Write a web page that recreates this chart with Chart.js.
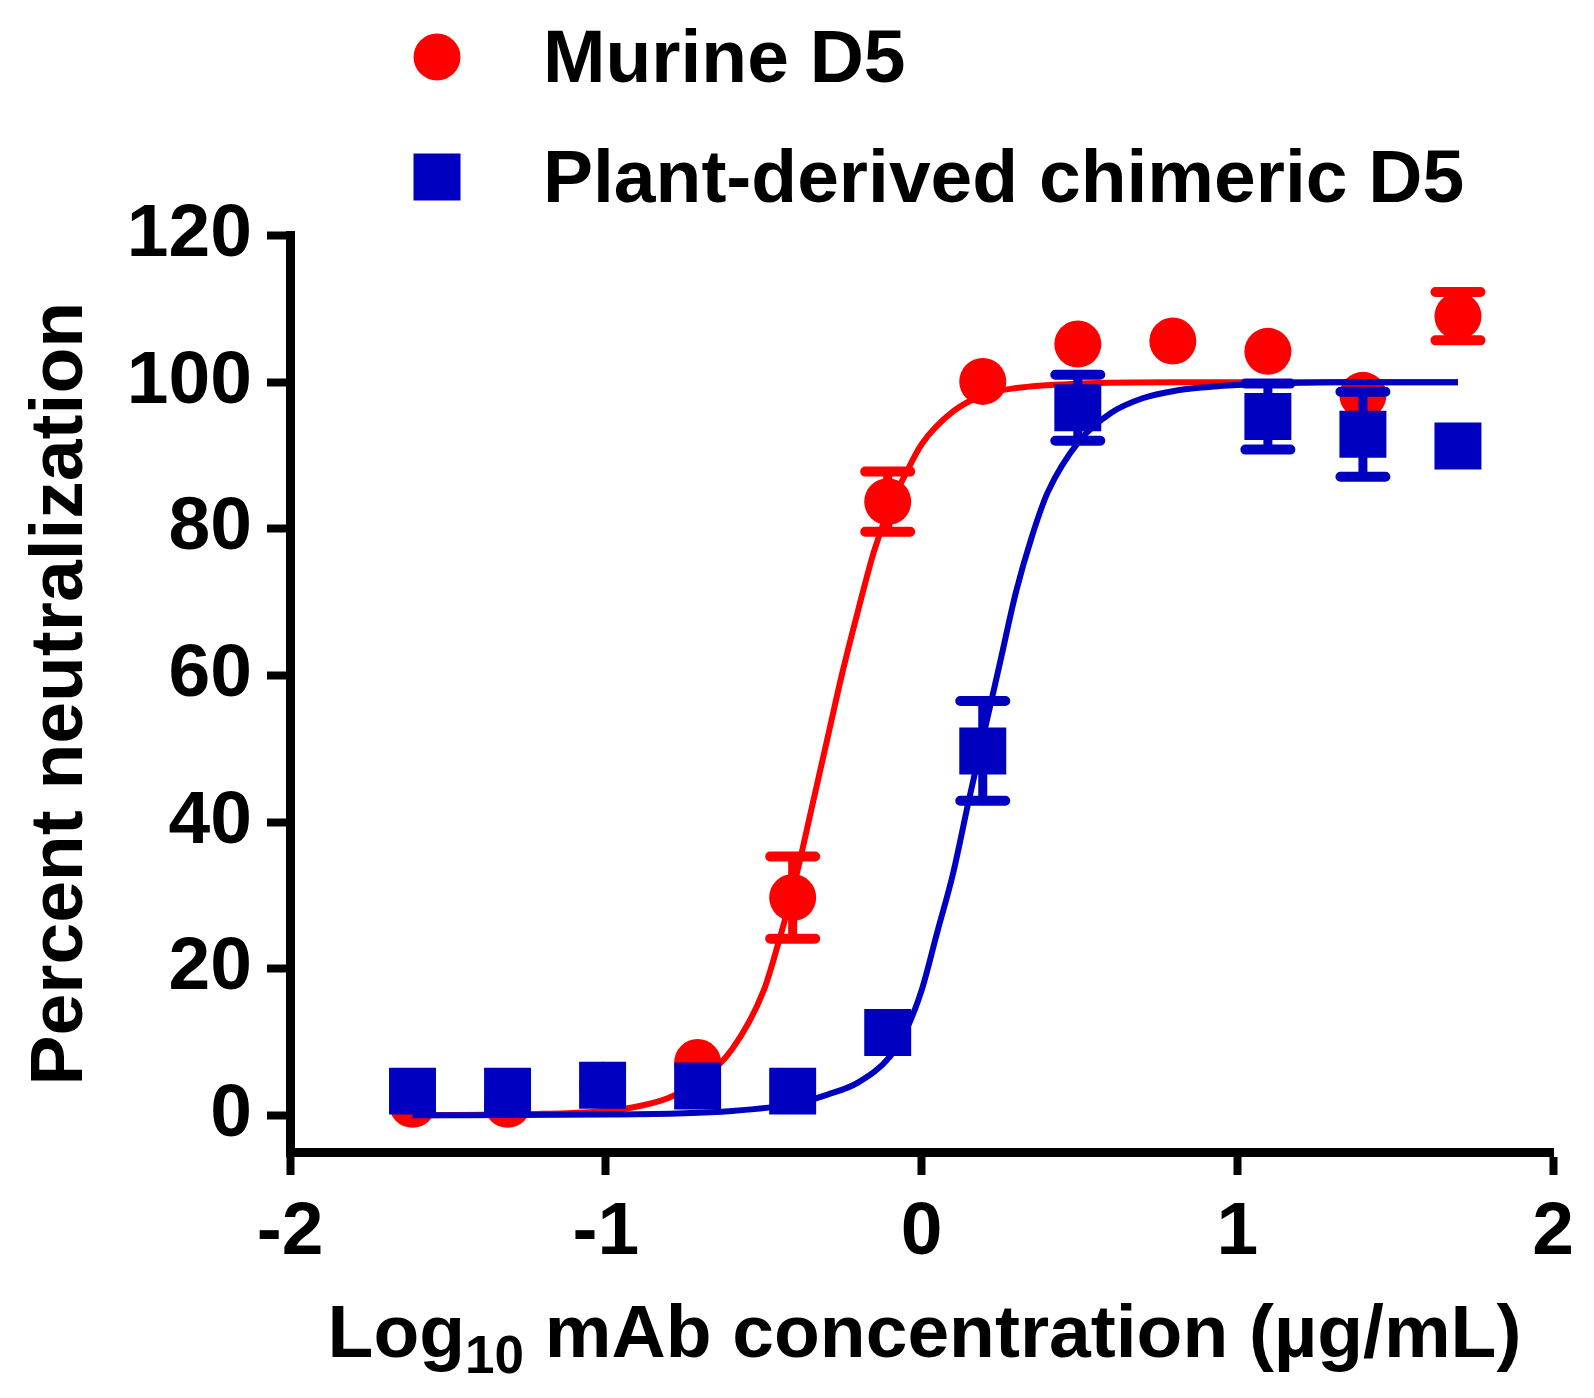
<!DOCTYPE html>
<html>
<head>
<meta charset="utf-8">
<script src="https://cdn.jsdelivr.net/npm/chart.js@4.4.0/dist/chart.umd.min.js"></script>
<style>
  html, body { margin: 0; padding: 0; background: #fff; }
  #wrap { width: 1594px; height: 1398px; position: relative; }
</style>
</head>
<body>
<div id="wrap"><canvas id="myChart"></canvas></div>
<script>
// log10 of mAb concentration (ug/mL), twofold dilutions
const logConc = [-1.612, -1.311, -1.010, -0.709, -0.408, -0.107, 0.194, 0.495, 0.796, 1.097, 1.398, 1.699];

// null error = bar hidden behind the symbol in the figure
const murineMean = [1.5, 1.5, 4.1, 7.2, 29.7, 83.7, 100.1, 105.2, 105.6, 104.2, 98.2, 109.0];
const murineErr  = [null, null, null, null, 5.6, 4.1, null, null, null, null, null, 3.3];

const chimericMean = [3.3, 3.3, 4.1, 4.0, 3.3, 11.3, 49.7, 96.5, null, 95.3, 92.9, 91.3];
const chimericErr  = [null, null, null, null, null, null, 6.8, 4.5, null, 4.5, 5.8, null];

// fitted curves
const murineFitX = [-1.612, -1.2, -1.0, -0.9, -0.8, -0.7, -0.6, -0.5, -0.45, -0.4, -0.35, -0.3, -0.25, -0.2, -0.15, -0.1, -0.05, 0, 0.1, 0.2, 0.3, 0.5, 0.8, 1.2, 1.699];
const murineFitY = [0, 0.2, 0.6, 1.2, 2.4, 4.8, 9, 17, 24, 32, 41.5, 51, 60.5, 69, 77, 83, 87.5, 91.5, 96, 98.3, 99.2, 99.8, 100, 100, 100];

const chimericFitX = [-1.612, -1.0, -0.6, -0.4, -0.3, -0.2, -0.1, -0.05, 0, 0.05, 0.1, 0.15, 0.2, 0.25, 0.3, 0.35, 0.4, 0.5, 0.6, 0.7, 0.8, 1.0, 1.3, 1.699];
const chimericFitY = [0, 0.1, 0.6, 1.6, 2.8, 4.5, 8, 11.5, 17, 25, 33, 43, 52.5, 62, 71.5, 79, 85, 92, 95.8, 97.8, 98.8, 99.6, 100, 100];

const yTicks = [0, 20, 40, 60, 80, 100, 120];
const seriesNames = ['Murine D5', 'Plant-derived chimeric D5'];

const RED = '#ff0000';
const BLUE = '#0000c0';
const FONT = "'Liberation Sans', Arial, sans-serif";

function pts(xs, ys) {
    const out = [];
    xs.forEach((x, i) => { if (ys[i] !== null) out.push({x: x, y: ys[i]}); });
    return out;
}

// error bars, drawn right after their own dataset so layering follows dataset order
const errorBars = {
    id: 'errorBars',
    afterDatasetDraw(chart, args) {
        const ds = chart.data.datasets[args.index];
        if (!ds.errors) return;
        const ctx = chart.ctx;
        const xs = chart.scales.x, ys = chart.scales.y;
        ctx.save();
        ctx.strokeStyle = ds.backgroundColor;
        ctx.lineCap = 'round';
        ds.errors.forEach((e, i) => {
            const m = ds.means[i];
            if (m === null || e === null) return;
            const px = xs.getPixelForValue(logConc[i]);
            const top = ys.getPixelForValue(m + e);
            const bot = ys.getPixelForValue(m - e);
            ctx.lineWidth = 9;
            ctx.beginPath(); ctx.moveTo(px, top); ctx.lineTo(px, bot); ctx.stroke();
            ctx.lineWidth = 10;
            ctx.beginPath();
            ctx.moveTo(px - 22.5, top); ctx.lineTo(px + 22.5, top);
            ctx.moveTo(px - 22.5, bot); ctx.lineTo(px + 22.5, bot);
            ctx.stroke();
        });
        ctx.restore();
    }
};

// legend at the top left and the x axis title with subscript
const extras = {
    id: 'extras',
    afterDraw(chart) {
        const ctx = chart.ctx;
        ctx.save();
        // legend
        const rows = [{y: 57, color: RED, style: 'circle'}, {y: 177, color: BLUE, style: 'rect'}];
        ctx.font = 'bold 75px ' + FONT;
        ctx.textBaseline = 'alphabetic';
        ctx.textAlign = 'left';
        rows.forEach((r, i) => {
            ctx.fillStyle = r.color;
            if (r.style === 'circle') {
                ctx.beginPath(); ctx.arc(437, r.y, 23.5, 0, Math.PI * 2); ctx.fill();
            } else {
                ctx.fillRect(437 - 23.5, r.y - 23.5, 47, 47);
            }
            ctx.fillStyle = '#000';
            ctx.fillText(seriesNames[i], 543, r.y + 25);
        });
        // x axis title
        const a = chart.chartArea;
        const big = 'bold 75px ' + FONT, small = 'bold 53px ' + FONT;
        const t1 = 'Log', t2 = '10', t3 = ' mAb concentration (\u00b5g/mL)';
        ctx.font = big; const w1 = ctx.measureText(t1).width, w3 = ctx.measureText(t3).width;
        ctx.font = small; const w2 = ctx.measureText(t2).width;
        let x = (a.left + a.right) / 2 + 3 - (w1 + w2 + w3) / 2;
        const base = 1357;
        ctx.fillStyle = '#000';
        ctx.font = big; ctx.fillText(t1, x, base); x += w1;
        ctx.font = small; ctx.fillText(t2, x, base + 16); x += w2;
        ctx.font = big; ctx.fillText(t3, x, base);
        ctx.restore();
    }
};

new Chart('myChart', {
    type: 'scatter',
    data: {
        datasets: [{
            label: seriesNames[1],
            data: pts(logConc, chimericMean),
            means: chimericMean,
            errors: chimericErr,
            backgroundColor: BLUE,
            borderColor: BLUE,
            pointStyle: 'rect',
            pointRadius: 33.2,
            pointHoverRadius: 33.2,
            pointBorderWidth: 0,
            order: 0
        }, {
            label: 'chimeric fit',
            data: pts(chimericFitX, chimericFitY),
            showLine: true,
            borderColor: BLUE,
            borderWidth: 6,
            pointRadius: 0,
            cubicInterpolationMode: 'monotone',
            order: 1
        }, {
            label: seriesNames[0],
            data: pts(logConc, murineMean),
            means: murineMean,
            errors: murineErr,
            backgroundColor: RED,
            borderColor: RED,
            pointStyle: 'circle',
            pointRadius: 23.5,
            pointHoverRadius: 23.5,
            pointBorderWidth: 0,
            order: 2
        }, {
            label: 'murine fit',
            data: pts(murineFitX, murineFitY),
            showLine: true,
            borderColor: RED,
            borderWidth: 6,
            pointRadius: 0,
            cubicInterpolationMode: 'monotone',
            order: 3
        }]
    },
    options: {
        responsive: true,
        maintainAspectRatio: false,
        animation: false,
        layout: {padding: {top: 235.5, right: 41, left: 0, bottom: 0}},
        plugins: {
            legend: {display: false},
            tooltip: {enabled: false}
        },
        scales: {
            x: {
                type: 'linear',
                min: -2, max: 2,
                ticks: {stepSize: 1, color: '#000', padding: 13, font: {family: FONT, size: 75, weight: 'bold'}},
                grid: {display: true, drawOnChartArea: false, drawTicks: true, tickLength: 23, tickWidth: 8, tickColor: '#000'},
                border: {display: true, color: '#000', width: 9},
                title: {display: false},
                afterFit: s => { s.height = 246; }
            },
            y: {
                type: 'linear',
                min: -5, max: 120,
                afterBuildTicks: s => { s.ticks = yTicks.map(v => ({value: v})); },
                ticks: {color: '#000', padding: 15, font: {family: FONT, size: 75, weight: 'bold'}},
                grid: {display: true, drawOnChartArea: false, drawTicks: true, tickLength: 23, tickWidth: 8, tickColor: '#000'},
                border: {display: true, color: '#000', width: 9},
                title: {display: true, text: 'Percent neutralization', color: '#000', padding: {top: 16, bottom: 0}, font: {family: FONT, size: 75, weight: 'bold'}},
                afterFit: s => { s.width = 290; }
            }
        }
    },
    plugins: [errorBars, extras]
});
</script>
</body>
</html>
